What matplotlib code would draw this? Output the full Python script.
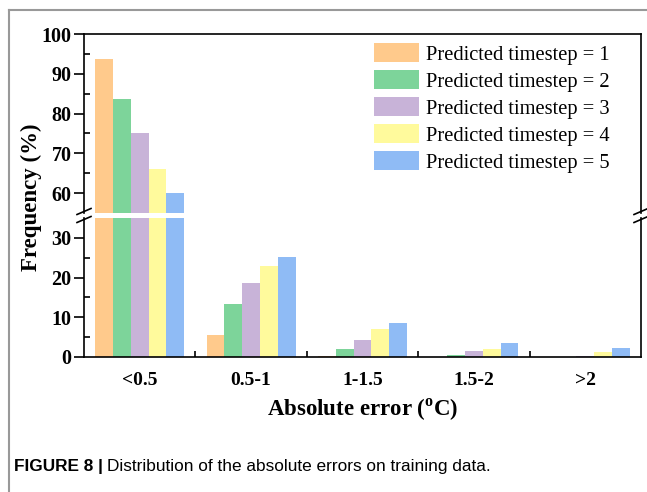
import numpy as np
import matplotlib.pyplot as plt
from matplotlib.lines import Line2D

# values (%)
categories = ['<0.5', '0.5-1', '1-1.5', '1.5-2', '>2']
step1 = [93.7, 5.5, 0.3, 0.0, 0.0]
step2 = [83.6, 13.4, 2.0, 0.4, 0.0]
step3 = [75.0, 18.6, 4.3, 1.4, 0.3]
step4 = [66.0, 23.0, 7.0, 2.1, 1.3]
step5 = [60.0, 25.1, 8.6, 3.4, 2.3]
labels = ['Predicted timestep = 1', 'Predicted timestep = 2', 'Predicted timestep = 3',
          'Predicted timestep = 4', 'Predicted timestep = 5']
colors = ['#FFCA8C', '#7DD49A', '#C8B3D8', '#FFFA9C', '#8FBBF5']

plt.rcParams['font.family'] = ['Liberation Serif', 'DejaVu Serif']
plt.rcParams['font.weight'] = 'bold'
plt.rcParams['mathtext.fontset'] = 'custom'
plt.rcParams['mathtext.rm'] = 'Liberation Serif:bold'
plt.rcParams['mathtext.bf'] = 'Liberation Serif:bold'

W, H = 647, 492
fig = plt.figure(figsize=(6.47, 4.92), dpi=100)
# broken y axis: two stacked axes
ax_top = fig.add_axes([84/W, 1-213/H, 557/W, 179/H])
ax_low = fig.add_axes([84/W, 1-357/H, 557/W, 139/H])

x = np.arange(len(categories))
width = 0.16
series = [step1, step2, step3, step4, step5]
for i in range(5):
    off = (i-2)*width
    ax_top.bar(x+off, series[i], width, color=colors[i], label=labels[i])
    ax_low.bar(x+off, series[i], width, color=colors[i])

for ax in (ax_top, ax_low):
    ax.set_xlim(-0.5, 4.5)
    for s in ax.spines.values():
        s.set_linewidth(1.2)
    ax.tick_params(axis='y', which='major', direction='out', length=7, width=1.2,
                   labelsize=14.5, pad=2)
    ax.tick_params(axis='y', which='minor', direction='in', length=4, width=1.2)

ax_top.set_ylim(55, 100)
ax_top.set_yticks([60, 70, 80, 90, 100])
ax_top.set_yticks([65, 75, 85, 95], minor=True)
ax_top.spines['bottom'].set_visible(False)
ax_top.tick_params(axis='x', which='both', bottom=False, labelbottom=False)

ax_low.set_ylim(0, 35)
ax_low.set_yticks([0, 10, 20, 30])
ax_low.set_yticks([5, 15, 25], minor=True)
ax_low.spines['top'].set_visible(False)
ax_low.set_xticks(x)
ax_low.set_xticklabels(categories)
ax_low.set_xticks([0.5, 1.5, 2.5, 3.5], minor=True)
ax_low.tick_params(axis='x', which='major', length=0, labelsize=14, pad=11)
ax_low.tick_params(axis='x', which='minor', direction='in', length=4, width=1.2)

# break marks on both sides
for xc in (84, 641):
    for yc in (211.5, 219.5):
        fig.add_artist(Line2D([(xc-7)/W, (xc+7)/W], [1-(yc+3)/H, 1-(yc-3)/H],
                              transform=fig.transFigure, color='black', lw=1.2))

fig.text(31/W, 1-197/H, 'Frequency (%)', rotation=90, ha='center', va='center', fontsize=16.5)
fig.text(362.5/W, 1-410/H, r'Absolute error ($^{\mathrm{o}}$C)', ha='center', va='center',
         fontsize=16.5)

fig.legend(loc='upper left', bbox_to_anchor=(364/W, 1-33/H), bbox_transform=fig.transFigure,
           frameon=False, borderpad=0, handlelength=2.2, handleheight=1.06,
           handletextpad=0.34, labelspacing=0.26, prop={'weight': 'normal', 'size': 14.8})

# page frame and caption
fig.add_artist(Line2D([9/W, 1], [1-10/H, 1-10/H], transform=fig.transFigure, color='#999999', lw=1.5))
fig.add_artist(Line2D([9/W, 9/W], [0, 1-10/H], transform=fig.transFigure, color='#999999', lw=1.5))

t1 = fig.text(14/W, 1-466/H, 'FIGURE 8 |', ha='left', va='center', fontsize=12.4,
              family='Liberation Sans', weight='bold')
ax_low.annotate('Distribution of the absolute errors on training data.', xy=(1, 0.5), xycoords=t1,
                xytext=(3, 0), textcoords='offset points', ha='left', va='center', fontsize=12.4,
                family='Liberation Sans', weight='normal', annotation_clip=False)

fig.savefig('out.png', dpi=100)
